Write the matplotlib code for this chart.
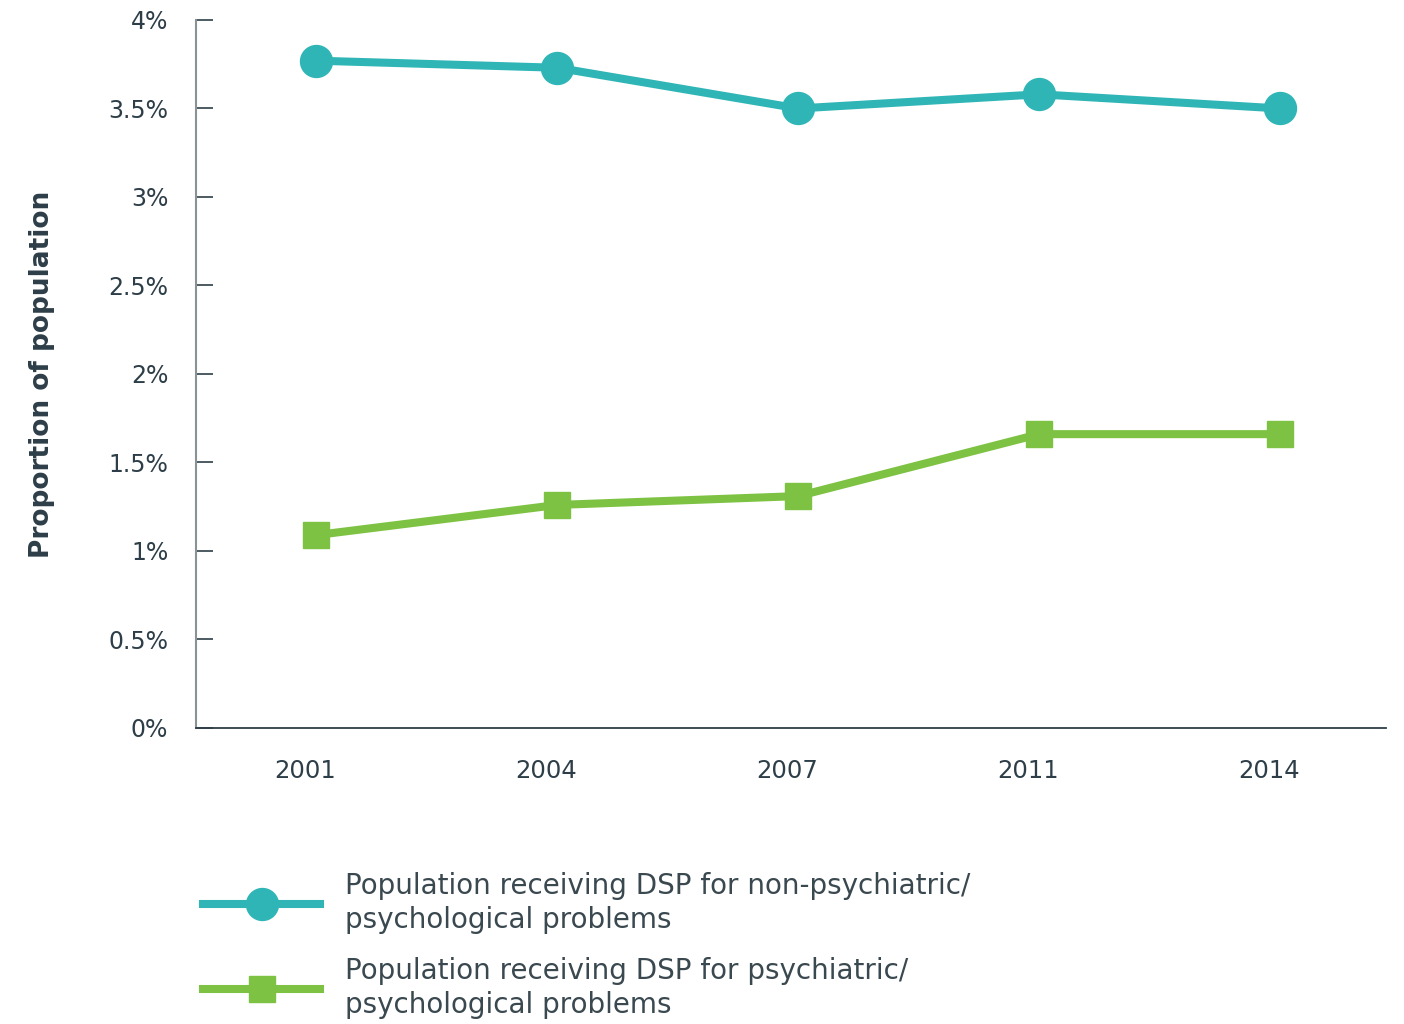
import matplotlib
matplotlib.use("Agg")
import matplotlib.pyplot as plt
from matplotlib.ticker import FuncFormatter, MultipleLocator

years = ["2001", "2004", "2007", "2011", "2014"]
non_psych = [3.77, 3.73, 3.50, 3.58, 3.50]
psych = [1.09, 1.26, 1.31, 1.66, 1.66]

teal = "#2fb5b6"
green = "#7dc242"
text_col = "#2d3e48"

plt.rcParams["font.family"] = ["DejaVu Sans"]

fig = plt.figure(figsize=(14.04, 10.24), dpi=100)
ax = fig.add_axes([0.1396, 0.2891, 0.8476, 0.6914])

x = list(range(len(years)))
ax.plot(x, non_psych, color=teal, lw=5.8, marker="o", markersize=23,
        label="Population receiving DSP for non-psychiatric/\npsychological problems")
ax.plot(x, psych, color=green, lw=5.8, marker="s", markersize=19,
        label="Population receiving DSP for psychiatric/\npsychological problems")

ax.set_xlim(-0.5, 4.44)
ax.set_ylim(0, 4)
ax.yaxis.set_major_locator(MultipleLocator(0.5))
ax.yaxis.set_major_formatter(FuncFormatter(lambda v, _: f"{v:g}%"))

# year labels sit slightly left of each point
ax.set_xticks([i - 0.045 for i in x])
ax.set_xticklabels(years)

for side in ("top", "right"):
    ax.spines[side].set_visible(False)
ax.spines["left"].set_color("#8a9296")
ax.spines["left"].set_linewidth(1.5)
ax.spines["bottom"].set_color(text_col)
ax.spines["bottom"].set_linewidth(1.3)

ax.tick_params(axis="y", direction="in", length=12, width=1.2, color=text_col,
               pad=20, labelsize=17, labelcolor=text_col)
ax.tick_params(axis="x", length=0, pad=22, labelsize=17.5, labelcolor=text_col)

ax.set_ylabel("Proportion of population", fontsize=19, fontweight="bold",
              color=text_col, labelpad=38)

leg = ax.legend(loc="upper left", bbox_to_anchor=(0.127, 0.173),
                bbox_transform=fig.transFigure, frameon=False,
                fontsize=20, handlelength=4.2, handletextpad=0.9,
                labelspacing=0.8, labelcolor="#3a4850")
for t in leg.get_texts():
    t.set_linespacing(1.3)

fig.savefig("out.png", dpi=100, facecolor="white")
